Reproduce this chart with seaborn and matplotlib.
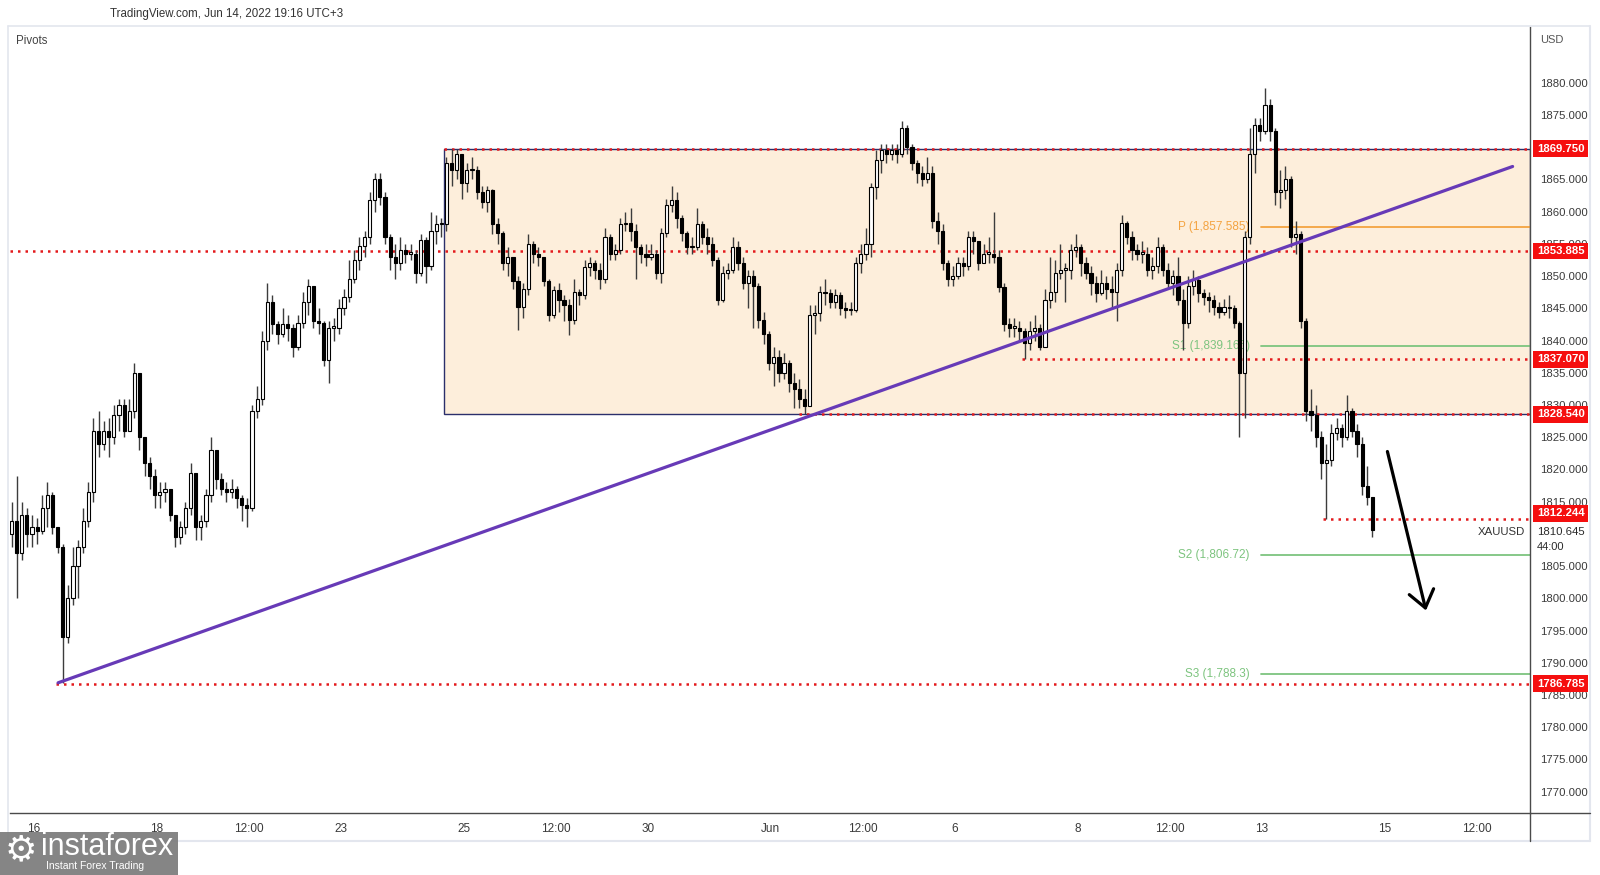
import numpy as np
import pandas as pd
import matplotlib
matplotlib.use("Agg")
import matplotlib.pyplot as plt
import matplotlib.transforms as mtransforms
from matplotlib.patches import Rectangle
from matplotlib.lines import Line2D
import seaborn as sns

# ---------------- data (2h candles, XAUUSD) ----------------
first_open = 1810.0
close = [
    1812, 1807, 1813, 1810, 1811, 1810.5, 1814, 1816, 1811, 1808,
    1794, 1800, 1805, 1808, 1812, 1816.5, 1826, 1824, 1826, 1825,
    1828.5, 1830, 1826, 1829, 1835, 1825, 1821, 1819, 1816, 1816.5,
    1817, 1813, 1809.5, 1811, 1814, 1819.5, 1811, 1812, 1816, 1823,
    1818.5, 1817, 1816.5, 1817, 1815.5, 1814.5, 1814, 1829, 1831, 1840,
    1846, 1842.5, 1841, 1842.5, 1842, 1839, 1842.7, 1846, 1848.5, 1843,
    1842.7, 1837, 1842, 1842, 1845, 1846.8, 1849.5, 1852.5, 1854.6, 1856,
    1861.8, 1865, 1862.3, 1856, 1853, 1852, 1854, 1853.5, 1853.5, 1850.4,
    1855.6, 1851.5, 1857, 1858, 1858, 1867.5, 1866.5, 1869, 1864.5, 1866.5,
    1866.5, 1863, 1861.5, 1863.3, 1858, 1856.7, 1852, 1853, 1849.3, 1845.2,
    1848, 1855, 1853.5, 1853, 1849.3, 1844, 1847.8, 1846.3, 1845.5, 1843.2,
    1847.5, 1847, 1851.4, 1852, 1851, 1849.5, 1856, 1853.5, 1854, 1858,
    1858.2, 1857, 1854.5, 1853.5, 1853, 1853.5, 1850.4, 1856.7, 1861, 1861.8,
    1859, 1856.7, 1854.5, 1854.5, 1858, 1856, 1855, 1852.5, 1846.3, 1850.5,
    1851, 1854.5, 1852, 1849, 1850, 1848.5, 1843.2, 1841, 1836.5, 1837.4,
    1834.9, 1836.5, 1833.4, 1832.5, 1831, 1829.8, 1844, 1844.2, 1847.5, 1847.3,
    1846, 1847, 1845, 1844.7, 1844.7, 1852, 1853.5, 1855, 1863.8, 1868,
    1869.5, 1869, 1869.5, 1869, 1873, 1870, 1867.5, 1866, 1865, 1866,
    1858.5, 1857, 1852, 1849.5, 1850, 1852, 1851.5, 1856, 1855.5, 1852,
    1853.5, 1853.5, 1853, 1848.3, 1842.5, 1842, 1842, 1841.5, 1839.6, 1841.5,
    1842, 1839, 1846.3, 1847.5, 1850.4, 1851, 1851, 1854, 1854.5, 1852,
    1850.5, 1849, 1847.3, 1849, 1848, 1847.5, 1851, 1858.2, 1856, 1854,
    1853.5, 1853.5, 1851, 1851.5, 1854.5, 1851, 1849, 1850, 1846.3, 1842.7,
    1848.5, 1849.4, 1847.3, 1846.8, 1846.3, 1845.2, 1844.5, 1845.2, 1845, 1842.7,
    1835, 1856, 1869, 1873.5, 1872.5, 1876.5, 1872.5, 1863, 1863.3, 1865,
    1856, 1856.5, 1843, 1829, 1828.5, 1825, 1821, 1821.5, 1825.6, 1826.5,
    1825, 1829, 1826, 1824, 1817.5, 1815.7, 1810.645,
]
high = [
    1815, 1819, 1815, 1814, 1813, 1812.5, 1816, 1818, 1816.5, 1811,
    1808.5, 1802, 1808, 1809, 1814, 1818, 1828, 1829, 1827.5, 1828,
    1830, 1831, 1831, 1831, 1836.5, 1834, 1825, 1822, 1820, 1818,
    1818, 1817, 1813, 1812, 1815, 1821, 1819, 1813, 1817, 1825,
    1822, 1819.5, 1818, 1818.5, 1817.5, 1816, 1815.5, 1830, 1833, 1841.5,
    1849, 1847, 1843, 1845, 1844, 1842.5, 1844, 1847.5, 1849.5, 1847,
    1845, 1843, 1843, 1843.5, 1846.5, 1848, 1852.5, 1854, 1856, 1857,
    1863, 1866, 1866, 1863, 1856.5, 1855, 1856, 1855, 1855, 1854,
    1856.5, 1856, 1860, 1859.5, 1859, 1868.5, 1869.7, 1869.7, 1868, 1867.5,
    1868.5, 1867, 1864, 1864, 1863.5, 1859, 1857, 1854.5, 1853, 1850,
    1849, 1856.5, 1855.5, 1854.5, 1853, 1849.5, 1848.5, 1849, 1847, 1846.5,
    1849.5, 1848, 1852.5, 1853, 1852.5, 1852, 1857.5, 1856.5, 1855, 1859,
    1860, 1860.5, 1858, 1855, 1855, 1855, 1854, 1857.5, 1862, 1864,
    1863, 1859.5, 1857, 1856, 1860.5, 1858.5, 1857.5, 1856, 1853, 1851.5,
    1852, 1856, 1855.5, 1853, 1851, 1851, 1849, 1844.5, 1841.5, 1839,
    1838.5, 1838, 1837, 1835, 1834, 1832.5, 1845.5, 1845.5, 1848.5, 1849.5,
    1848, 1848, 1847.5, 1846, 1846, 1853, 1855, 1857.5, 1864.5, 1869.5,
    1870.5, 1870.5, 1870.5, 1870.5, 1874, 1873.5, 1870.5, 1868, 1867, 1868.5,
    1867, 1860, 1858, 1852.5, 1851.5, 1853, 1853, 1857, 1857, 1855,
    1855, 1856, 1860, 1854, 1849, 1843.5, 1843.5, 1843, 1842, 1843,
    1844, 1842.5, 1848, 1853, 1852.5, 1855, 1852, 1855, 1856.5, 1855,
    1853, 1851.5, 1850, 1851, 1850, 1850, 1852, 1859.5, 1858.5, 1857,
    1855, 1855.5, 1854.5, 1853, 1856, 1855, 1852, 1851, 1853, 1848,
    1850, 1851, 1850, 1848, 1847.5, 1847, 1846, 1846.5, 1847, 1845.5,
    1843, 1857, 1873, 1874.5, 1874.5, 1879.2, 1877.5, 1873, 1866.5, 1867,
    1865.5, 1858.5, 1857, 1843.5, 1832.5, 1830, 1826, 1824, 1827, 1828,
    1827, 1831.5, 1829.5, 1827, 1825, 1820.5, 1815.5,
]
low = [
    1808, 1800, 1806, 1808, 1808, 1808.5, 1810, 1811, 1810, 1807,
    1786.8, 1793, 1799, 1800, 1807, 1811, 1815, 1822, 1823, 1822,
    1824, 1826, 1825, 1826, 1828, 1823, 1819, 1817, 1814, 1814,
    1815, 1812, 1808, 1808.5, 1810, 1813, 1809, 1809, 1811, 1815,
    1817, 1816, 1815, 1815.5, 1814, 1812, 1811, 1813.5, 1828, 1830,
    1838.5, 1841, 1839.5, 1840.5, 1840, 1837.5, 1838.5, 1842, 1844, 1842,
    1841, 1836, 1833.4, 1840, 1841, 1844, 1846, 1849, 1851, 1853,
    1855, 1860, 1861, 1855, 1851, 1849.5, 1851, 1852, 1852.5, 1849,
    1850, 1849, 1851, 1855, 1856, 1857, 1864, 1865, 1862, 1863,
    1865, 1862, 1860.5, 1860, 1856.5, 1855, 1851, 1850, 1848, 1841.6,
    1843.5, 1847, 1852, 1851.5, 1848.5, 1843, 1843.5, 1844.5, 1843, 1840.8,
    1842.5, 1845.5, 1846.5, 1850, 1849.5, 1848, 1849, 1852.5, 1852.5, 1853.5,
    1857, 1855.5, 1849.5, 1852, 1851.5, 1852.5, 1849.5, 1849, 1856, 1860,
    1857.5, 1855.5, 1853.5, 1853.5, 1854, 1855, 1853.5, 1851.5, 1845.5, 1846,
    1849.5, 1850.5, 1851, 1848, 1845, 1842, 1842, 1839.5, 1835.5, 1833,
    1833.5, 1834, 1832, 1829.5, 1829.5, 1828.6, 1830, 1841, 1843, 1845.5,
    1845, 1845, 1844, 1843.5, 1844, 1844.5, 1850.5, 1852.5, 1853, 1862,
    1866, 1867.5, 1868, 1867.5, 1868.5, 1869, 1866.5, 1864.5, 1864, 1864.5,
    1857.5, 1855, 1851, 1848.5, 1848.5, 1849.5, 1850, 1851, 1853.5, 1851,
    1852, 1852, 1852, 1847.5, 1841.5, 1840.5, 1840.5, 1840, 1837.07, 1838.5,
    1840, 1838.5, 1839, 1845, 1846, 1849.5, 1846, 1849.5, 1853, 1850,
    1849.5, 1847, 1846, 1847, 1846.5, 1845, 1843, 1850, 1855, 1852.5,
    1852.5, 1852, 1850, 1849.5, 1850.5, 1850, 1848, 1847, 1845.5, 1838.5,
    1842, 1847, 1846, 1845.5, 1844.5, 1844, 1843.5, 1844, 1843.5, 1842,
    1825, 1828, 1855, 1866, 1871, 1872, 1871, 1861, 1860.5, 1862,
    1854.5, 1853.5, 1842, 1827.5, 1826, 1823.5, 1818.5, 1812.24, 1820.5, 1824.5,
    1823.5, 1824.5, 1825, 1822, 1816, 1814.5, 1809.5,
]

# horizontal levels
level_prices = [1869.750, 1853.885, 1837.070, 1828.540, 1812.244, 1786.785]
level_labels = ["1869.750", "1853.885", "1837.070", "1828.540", "1812.244", "1786.785"]
level_starts = [84.5, -0.3, 197.6, 153.9, 256.3, 8.7]   # candle index where each line starts
label_shift = [0, 0, 0, 0, 0.95, 0]                      # axis label nudged to avoid overlap

pivot_names = ["P (1,857.585)", "S1 (1,839.165)", "S2 (1,806.72)", "S3 (1,788.3)"]
pivot_prices = [1857.585, 1839.165, 1806.72, 1788.3]
pivot_colors = ["#f4a340", "#7dc47f", "#7dc47f", "#7dc47f"]

box_left, box_top, box_bottom = 84.5, 1869.75, 1828.54
trend_x = [9.1, 293.4]
trend_y = [1786.9, 1867.0]
arrow_from = (268.8, 1823.2)
arrow_to = (276.6, 1797.7)

xtick_days = [0, 2, 3.5, 5, 7, 8.5, 10, 12, 13.5, 15, 17, 18.5, 20, 22, 23.5]
xtick_labels = ["16", "18", "12:00", "23", "25", "12:00", "30", "Jun", "12:00",
                "6", "8", "12:00", "13", "15", "12:00"]
ytick_values = list(range(1770, 1885, 5))
hidden_ytick = 1810          # covered by the last-price label
last_price = 1810.645

# ---------------- frame ----------------
n = len(close)
df = pd.DataFrame({"idx": np.arange(n), "close": close, "high": high, "low": low})
df["open"] = [first_open] + close[:-1]
df["high"] = df[["high", "open", "close"]].max(axis=1)
df["low"] = df[["low", "open", "close"]].min(axis=1)
df["up"] = df["close"] >= df["open"]

sns.set_theme(style="white")
plt.rcParams["font.family"] = ["Liberation Sans", "DejaVu Sans"]

W, H = 1600, 875
fig = plt.figure(figsize=(W / 100, H / 100), dpi=100)
fig.patch.set_facecolor("white")

def fx(px):
    return px / W

def fy(py):
    return 1 - py / H

ax_l, ax_r, ax_t, ax_b = 10, 1530, 27, 813
ax = fig.add_axes([fx(ax_l), fy(ax_b), (ax_r - ax_l) / W, (ax_b - ax_t) / H])
ax.set_facecolor("white")
XMIN, XMAX = -0.3, 296.8
YMIN, YMAX = 1766.7, 1888.64
ax.set_xlim(XMIN, XMAX)
ax.set_ylim(YMIN, YMAX)

# box
ax.add_patch(Rectangle((box_left, box_bottom), XMAX - box_left, box_top - box_bottom,
                       facecolor="#fdeedb", edgecolor="#2b2f6b", linewidth=1.0, zorder=0.5))

# dotted red levels
for p, s in zip(level_prices, level_starts):
    ax.plot([s, XMAX], [p, p], color="#e3191c", linewidth=1.8,
            linestyle=(0, (1.0, 2.0)), zorder=1.5, solid_capstyle="butt")

# pivot lines
piv_start = 244.3
for name, p, c in zip(pivot_names, pivot_prices, pivot_colors):
    ax.plot([piv_start, XMAX], [p, p], color=c, linewidth=1.3, zorder=1.2)
    ax.text(242.0, p, name, color=c, fontsize=8.5, ha="right", va="center", zorder=1.3)

# candles
ax.vlines(df["idx"], df["low"], df["high"], color="#3c3c3c", linewidth=1.0, zorder=3)
body_bottom = df[["open", "close"]].min(axis=1)
body_h = (df["close"] - df["open"]).abs().clip(lower=0.18)
faces = np.where(df["up"], "white", "black")
ax.bar(df["idx"], body_h, bottom=body_bottom, width=0.62, color=faces,
       edgecolor="black", linewidth=0.8, zorder=4)

# trend line
sns.lineplot(x=trend_x, y=trend_y, ax=ax, color="#673ab7", linewidth=2.3, zorder=5)

# arrow
ax.annotate("", xy=arrow_to, xytext=arrow_from,
            arrowprops=dict(arrowstyle="->,head_length=0.6,head_width=0.45",
                            mutation_scale=20, lw=2.3, color="black"), zorder=6)

# axes styling
ax.yaxis.tick_right()
ax.set_yticks(ytick_values)
ax.set_yticklabels(["" if v == hidden_ytick else f"{v:.3f}" for v in ytick_values])
ax.set_xticks([4.4 + 12 * d for d in xtick_days])
ax.set_xticklabels(xtick_labels)
ax.tick_params(axis="y", length=0, pad=7, labelsize=8.2, labelcolor="#3a3a3a", right=True, left=False)
ax.tick_params(axis="x", length=0, pad=7, labelsize=8.5, labelcolor="#3a3a3a")
for side in ["right", "bottom"]:
    ax.spines[side].set_visible(True)
    ax.spines[side].set_color("#4a4a4a")
    ax.spines[side].set_linewidth(1.0)
ax.spines["left"].set_visible(False)
ax.spines["top"].set_visible(False)
ax.grid(False)

# red price labels on axis
blend = mtransforms.blended_transform_factory(ax.transAxes, ax.transData)
for p, lab, sh in zip(level_prices, level_labels, label_shift):
    ax.text(1.0045, p + sh, lab, transform=blend, color="white", fontsize=8.2, fontweight="bold",
            ha="left", va="center", zorder=20, clip_on=False,
            bbox=dict(boxstyle="square,pad=0.3", fc="#f50f0f", ec="none"))

# last price
ax.text(0.997, last_price - 0.35, "XAUUSD", transform=blend, color="#333333", fontsize=8.2,
        ha="right", va="center", zorder=20)
ax.text(1.0045, last_price - 0.35, "1810.645", transform=blend, color="#2a2a2a", fontsize=8.2,
        ha="left", va="center", zorder=20, clip_on=False)
ax.text(1.0045, last_price - 2.7, "44:00", transform=blend, color="#2a2a2a", fontsize=8,
        ha="left", va="center", zorder=20, clip_on=False)

# figure decorations
frame_c = "#e3e6ee"
fig.add_artist(Line2D([fx(8), fx(1590)], [fy(26), fy(26)], color=frame_c, lw=1.2))
fig.add_artist(Line2D([fx(8), fx(8)], [fy(26), fy(841)], color=frame_c, lw=1.2))
fig.add_artist(Line2D([fx(8), fx(1590)], [fy(841), fy(841)], color=frame_c, lw=1.5))
fig.add_artist(Line2D([fx(1590), fx(1590)], [fy(26), fy(841)], color=frame_c, lw=1.5))
fig.add_artist(Line2D([fx(1530), fx(1530)], [fy(813), fy(841)], color="#4a4a4a", lw=1.0))
fig.add_artist(Line2D([fx(1530), fx(1590)], [fy(813), fy(813)], color="#4a4a4a", lw=1.0))

fig.text(fx(110), fy(14), "TradingView.com, Jun 14, 2022 19:16 UTC+3", fontsize=8.3,
         color="#333333", ha="left", va="center")
fig.text(fx(16), fy(41), "Pivots", fontsize=8.3, color="#444444", ha="left", va="center")
fig.text(fx(1540), fy(40), "USD", fontsize=8, color="#555555", ha="left", va="center")

# instaforex watermark
fig.add_artist(Rectangle((0, 0), fx(178), (875 - 832) / H, transform=fig.transFigure,
                         facecolor="#7b7b7b", edgecolor="none", alpha=0.92, zorder=30))
fig.text(fx(21), fy(850), "\u2699", fontsize=26, color="white", ha="center", va="center",
         zorder=31, family="DejaVu Sans")
fig.text(fx(41), fy(847), "instaforex", fontsize=22, color="white", ha="left", va="center",
         zorder=31)
fig.text(fx(46), fy(866), "Instant Forex Trading", fontsize=7.5, color="white", ha="left",
         va="center", zorder=31)

fig.savefig("out.png", dpi=100, facecolor="white")
